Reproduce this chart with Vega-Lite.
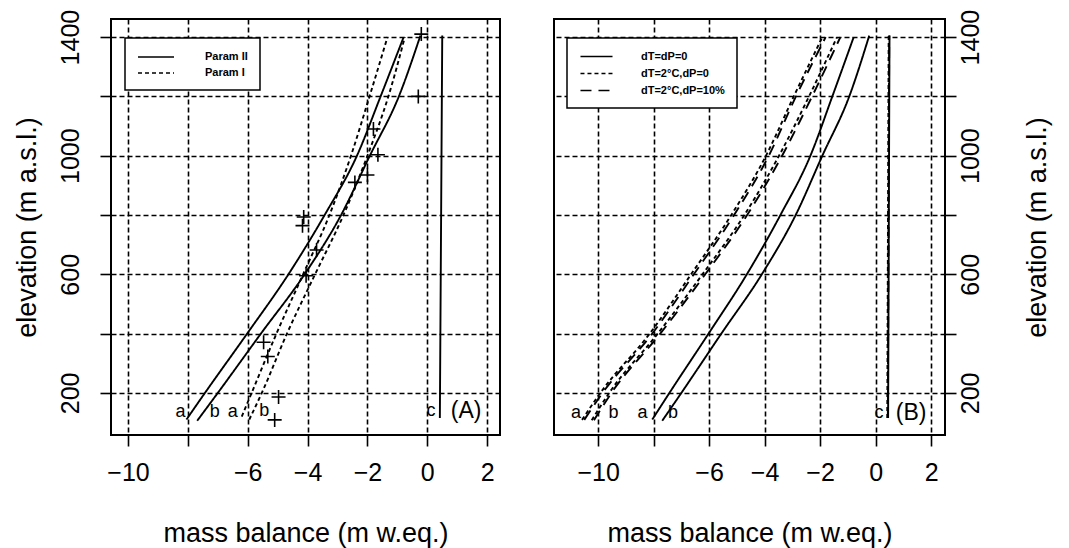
{
  "$schema": "https://vega.github.io/schema/vega-lite/v6.json",
  "padding": {"left": 11, "top": 8, "right": 5, "bottom": 5},
  "spacing": 52,
  "datasets": {
    "curvesA": [
      {"series": "Param II", "branch": "a", "elev": 110, "mb": -8.05},
      {"series": "Param II", "branch": "a", "elev": 200, "mb": -7.43},
      {"series": "Param II", "branch": "a", "elev": 400, "mb": -6.02},
      {"series": "Param II", "branch": "a", "elev": 600, "mb": -4.64},
      {"series": "Param II", "branch": "a", "elev": 800, "mb": -3.43},
      {"series": "Param II", "branch": "a", "elev": 1000, "mb": -2.35},
      {"series": "Param II", "branch": "a", "elev": 1200, "mb": -1.56},
      {"series": "Param II", "branch": "a", "elev": 1400, "mb": -0.79},
      {"series": "Param II", "branch": "b", "elev": 106, "mb": -7.69},
      {"series": "Param II", "branch": "b", "elev": 200, "mb": -7.0},
      {"series": "Param II", "branch": "b", "elev": 400, "mb": -5.56},
      {"series": "Param II", "branch": "b", "elev": 600, "mb": -4.1},
      {"series": "Param II", "branch": "b", "elev": 800, "mb": -2.88},
      {"series": "Param II", "branch": "b", "elev": 1000, "mb": -1.92},
      {"series": "Param II", "branch": "b", "elev": 1200, "mb": -0.95},
      {"series": "Param II", "branch": "b", "elev": 1405, "mb": -0.23},
      {"series": "Param II", "branch": "c", "elev": 115, "mb": 0.42},
      {"series": "Param II", "branch": "c", "elev": 1405, "mb": 0.5},
      {"series": "Param I", "branch": "a", "elev": 120, "mb": -6.2},
      {"series": "Param I", "branch": "a", "elev": 200, "mb": -5.87},
      {"series": "Param I", "branch": "a", "elev": 400, "mb": -5.04},
      {"series": "Param I", "branch": "a", "elev": 600, "mb": -4.15},
      {"series": "Param I", "branch": "a", "elev": 800, "mb": -3.27},
      {"series": "Param I", "branch": "a", "elev": 1000, "mb": -2.55},
      {"series": "Param I", "branch": "a", "elev": 1200, "mb": -1.93},
      {"series": "Param I", "branch": "a", "elev": 1400, "mb": -1.33},
      {"series": "Param I", "branch": "b", "elev": 110, "mb": -5.95},
      {"series": "Param I", "branch": "b", "elev": 200, "mb": -5.53},
      {"series": "Param I", "branch": "b", "elev": 400, "mb": -4.69},
      {"series": "Param I", "branch": "b", "elev": 600, "mb": -3.75},
      {"series": "Param I", "branch": "b", "elev": 800, "mb": -2.8},
      {"series": "Param I", "branch": "b", "elev": 1000, "mb": -2.0},
      {"series": "Param I", "branch": "b", "elev": 1200, "mb": -1.3},
      {"series": "Param I", "branch": "b", "elev": 1400, "mb": -0.75}
    ],
    "pointsA": [
      {"elev": 1410, "mb": -0.2},
      {"elev": 1200, "mb": -0.3},
      {"elev": 1090, "mb": -1.8},
      {"elev": 1003, "mb": -1.65},
      {"elev": 935, "mb": -2.0},
      {"elev": 910, "mb": -2.42},
      {"elev": 793, "mb": -4.13},
      {"elev": 764, "mb": -4.17},
      {"elev": 682, "mb": -3.7},
      {"elev": 595, "mb": -4.05},
      {"elev": 371, "mb": -5.47},
      {"elev": 323, "mb": -5.33},
      {"elev": 186, "mb": -4.97},
      {"elev": 109, "mb": -5.1}
    ],
    "labelsA": [
      {"label": "a", "elev": 137, "mb": -8.25},
      {"label": "b", "elev": 137, "mb": -7.1},
      {"label": "a", "elev": 137, "mb": -6.5},
      {"label": "b", "elev": 140, "mb": -5.45},
      {"label": "c", "elev": 140, "mb": 0.12},
      {"label": "(A)", "elev": 140, "mb": 1.3}
    ],
    "curvesB": [
      {"series": "dT=dP=0", "branch": "a", "elev": 110, "mb": -8.05},
      {"series": "dT=dP=0", "branch": "a", "elev": 200, "mb": -7.43},
      {"series": "dT=dP=0", "branch": "a", "elev": 400, "mb": -6.02},
      {"series": "dT=dP=0", "branch": "a", "elev": 600, "mb": -4.64},
      {"series": "dT=dP=0", "branch": "a", "elev": 800, "mb": -3.43},
      {"series": "dT=dP=0", "branch": "a", "elev": 1000, "mb": -2.35},
      {"series": "dT=dP=0", "branch": "a", "elev": 1200, "mb": -1.56},
      {"series": "dT=dP=0", "branch": "a", "elev": 1400, "mb": -0.79},
      {"series": "dT=dP=0", "branch": "b", "elev": 106, "mb": -7.69},
      {"series": "dT=dP=0", "branch": "b", "elev": 200, "mb": -7.0},
      {"series": "dT=dP=0", "branch": "b", "elev": 400, "mb": -5.56},
      {"series": "dT=dP=0", "branch": "b", "elev": 600, "mb": -4.1},
      {"series": "dT=dP=0", "branch": "b", "elev": 800, "mb": -2.88},
      {"series": "dT=dP=0", "branch": "b", "elev": 1000, "mb": -1.92},
      {"series": "dT=dP=0", "branch": "b", "elev": 1200, "mb": -0.95},
      {"series": "dT=dP=0", "branch": "b", "elev": 1405, "mb": -0.23},
      {"series": "dT=dP=0", "branch": "c", "elev": 115, "mb": 0.45},
      {"series": "dT=dP=0", "branch": "c", "elev": 1405, "mb": 0.5},
      {"series": "dT=2°C,dP=0", "branch": "a", "elev": 109, "mb": -10.58},
      {"series": "dT=2°C,dP=0", "branch": "a", "elev": 200, "mb": -9.92},
      {"series": "dT=2°C,dP=0", "branch": "a", "elev": 400, "mb": -8.14},
      {"series": "dT=2°C,dP=0", "branch": "a", "elev": 600, "mb": -6.65},
      {"series": "dT=2°C,dP=0", "branch": "a", "elev": 800, "mb": -5.2},
      {"series": "dT=2°C,dP=0", "branch": "a", "elev": 1000, "mb": -3.95},
      {"series": "dT=2°C,dP=0", "branch": "a", "elev": 1200, "mb": -2.95},
      {"series": "dT=2°C,dP=0", "branch": "a", "elev": 1400, "mb": -1.92},
      {"series": "dT=2°C,dP=0", "branch": "b", "elev": 108, "mb": -10.23},
      {"series": "dT=2°C,dP=0", "branch": "b", "elev": 200, "mb": -9.6},
      {"series": "dT=2°C,dP=0", "branch": "b", "elev": 400, "mb": -7.85},
      {"series": "dT=2°C,dP=0", "branch": "b", "elev": 600, "mb": -6.24},
      {"series": "dT=2°C,dP=0", "branch": "b", "elev": 800, "mb": -4.73},
      {"series": "dT=2°C,dP=0", "branch": "b", "elev": 1000, "mb": -3.48},
      {"series": "dT=2°C,dP=0", "branch": "b", "elev": 1200, "mb": -2.4},
      {"series": "dT=2°C,dP=0", "branch": "b", "elev": 1400, "mb": -1.39},
      {"series": "dT=2°C,dP=0", "branch": "c", "elev": 115, "mb": 0.42},
      {"series": "dT=2°C,dP=0", "branch": "c", "elev": 1405, "mb": 0.47},
      {"series": "dT=2°C,dP=10%", "branch": "a", "elev": 109, "mb": -10.5},
      {"series": "dT=2°C,dP=10%", "branch": "a", "elev": 200, "mb": -9.84},
      {"series": "dT=2°C,dP=10%", "branch": "a", "elev": 400, "mb": -8.05},
      {"series": "dT=2°C,dP=10%", "branch": "a", "elev": 600, "mb": -6.55},
      {"series": "dT=2°C,dP=10%", "branch": "a", "elev": 800, "mb": -5.1},
      {"series": "dT=2°C,dP=10%", "branch": "a", "elev": 1000, "mb": -3.85},
      {"series": "dT=2°C,dP=10%", "branch": "a", "elev": 1200, "mb": -2.87},
      {"series": "dT=2°C,dP=10%", "branch": "a", "elev": 1400, "mb": -1.8},
      {"series": "dT=2°C,dP=10%", "branch": "b", "elev": 108, "mb": -10.15},
      {"series": "dT=2°C,dP=10%", "branch": "b", "elev": 200, "mb": -9.52},
      {"series": "dT=2°C,dP=10%", "branch": "b", "elev": 400, "mb": -7.76},
      {"series": "dT=2°C,dP=10%", "branch": "b", "elev": 600, "mb": -6.14},
      {"series": "dT=2°C,dP=10%", "branch": "b", "elev": 800, "mb": -4.63},
      {"series": "dT=2°C,dP=10%", "branch": "b", "elev": 1000, "mb": -3.37},
      {"series": "dT=2°C,dP=10%", "branch": "b", "elev": 1200, "mb": -2.29},
      {"series": "dT=2°C,dP=10%", "branch": "b", "elev": 1400, "mb": -1.27},
      {"series": "dT=2°C,dP=10%", "branch": "c", "elev": 115, "mb": 0.44},
      {"series": "dT=2°C,dP=10%", "branch": "c", "elev": 1405, "mb": 0.49}
    ],
    "labelsB": [
      {"label": "a", "elev": 131, "mb": -10.8},
      {"label": "b", "elev": 131, "mb": -9.45},
      {"label": "a", "elev": 131, "mb": -8.4},
      {"label": "b", "elev": 131, "mb": -7.3},
      {"label": "c", "elev": 131, "mb": 0.12},
      {"label": "(B)", "elev": 131, "mb": 1.28}
    ]
  },
  "hconcat": [
    {
      "width": 389,
      "height": 416,
      "encoding": {
        "x": {
          "field": "mb", "type": "quantitative", "title": "mass balance (m w.eq.)",
          "scale": {"domain": [-10.57, 2.43], "nice": false, "zero": false},
          "axis": {"values": [-10, -8, -6, -4, -2, 0, 2], "labelExpr": "datum.value == -8 ? '' : datum.label"}
        },
        "y": {
          "field": "elev", "type": "quantitative", "title": "elevation (m a.s.l.)",
          "scale": {"domain": [58, 1461], "nice": false, "zero": false},
          "axis": {
            "orient": "left", "values": [200, 400, 600, 800, 1000, 1200, 1400], "format": "d",
            "labelExpr": "datum.value % 400 == 200 ? datum.label : ''",
            "labelAngle": 270, "labelAlign": "center", "labelBaseline": "alphabetic", "labelPadding": 22,
            "titleAngle": 270, "titleBaseline": "alphabetic", "titlePadding": 23
          }
        }
      },
      "layer": [
        {
          "data": {"name": "curvesA"},
          "mark": {"type": "line", "color": "black", "strokeWidth": 1.9, "interpolate": "monotone"},
          "encoding": {
            "strokeDash": {
              "field": "series", "type": "nominal",
              "scale": {"domain": ["Param II", "Param I"], "range": [[1, 0], [4, 3]]},
              "legend": {
                "title": null, "orient": "none", "legendX": 14, "legendY": 19,
                "symbolSize": 144, "symbolOffset": 12, "labelOffset": 42, "rowPadding": 4
              }
            },
            "detail": {"field": "branch", "type": "nominal"},
            "order": {"field": "elev", "type": "quantitative"}
          }
        },
        {
          "data": {"name": "pointsA"},
          "mark": {"type": "point", "shape": "M-1,0L1,0M0,-1L0,1", "filled": false, "color": "black", "strokeWidth": 1.6, "size": 196, "opacity": 1}
        },
        {
          "data": {"name": "labelsA"},
          "mark": {"type": "text", "font": "Liberation Sans", "color": "black", "align": "center", "baseline": "middle"},
          "encoding": {
            "text": {"field": "label", "type": "nominal"},
            "size": {"condition": {"test": "datum.label == '(A)'", "value": 23}, "value": 18}
          }
        }
      ]
    },
    {
      "width": 391,
      "height": 416,
      "encoding": {
        "x": {
          "field": "mb", "type": "quantitative", "title": "mass balance (m w.eq.)",
          "scale": {"domain": [-11.59, 2.5], "nice": false, "zero": false},
          "axis": {"values": [-10, -8, -6, -4, -2, 0, 2], "labelExpr": "datum.value == -8 ? '' : datum.label"}
        },
        "y": {
          "field": "elev", "type": "quantitative", "title": "elevation (m a.s.l.)",
          "scale": {"domain": [58, 1461], "nice": false, "zero": false},
          "axis": {
            "orient": "right", "values": [200, 400, 600, 800, 1000, 1200, 1400], "format": "d",
            "labelExpr": "datum.value % 400 == 200 ? datum.label : ''",
            "labelAngle": 270, "labelAlign": "center", "labelBaseline": "top", "labelPadding": 2,
            "titleAngle": 270, "titleBaseline": "top", "titlePadding": 41
          }
        }
      },
      "layer": [
        {
          "data": {"name": "curvesB"},
          "mark": {"type": "line", "color": "black", "strokeWidth": 1.9, "interpolate": "monotone"},
          "encoding": {
            "strokeDash": {
              "field": "series", "type": "nominal",
              "scale": {"domain": ["dT=dP=0", "dT=2°C,dP=0", "dT=2°C,dP=10%"], "range": [[1, 0], [4, 3], [11, 7]]},
              "legend": {
                "title": null, "orient": "none", "legendX": 13, "legendY": 19,
                "symbolSize": 114, "symbolOffset": 11, "labelOffset": 38, "rowPadding": 5
              }
            },
            "detail": {"field": "branch", "type": "nominal"},
            "order": {"field": "elev", "type": "quantitative"}
          }
        },
        {
          "data": {"name": "labelsB"},
          "mark": {"type": "text", "font": "Liberation Sans", "color": "black", "align": "center", "baseline": "middle"},
          "encoding": {
            "text": {"field": "label", "type": "nominal"},
            "size": {"condition": {"test": "datum.label == '(B)'", "value": 23}, "value": 18}
          }
        }
      ]
    }
  ],
  "resolve": {
    "scale": {"x": "independent", "y": "independent", "strokeDash": "independent"},
    "axis": {"x": "independent", "y": "independent"},
    "legend": {"strokeDash": "independent"}
  },
  "config": {
    "view": {"stroke": "black", "strokeWidth": 2},
    "axis": {
      "domain": false, "grid": true, "gridColor": "black", "gridDash": [5, 3], "gridWidth": 1.6, "gridOpacity": 1,
      "tickColor": "black", "tickWidth": 1.6, "labelColor": "black", "titleColor": "black",
      "labelFont": "Liberation Sans", "titleFont": "Liberation Sans", "labelFontSize": 25, "titleFontSize": 27,
      "titleFontWeight": "normal", "labelFlush": false, "labelOverlap": false
    },
    "axisX": {"tickSize": 11, "labelPadding": 14, "titlePadding": 35, "labelBaseline": "top"},
    "axisY": {"tickSize": 11},
    "legend": {
      "symbolType": "M-3,0L3,0", "symbolStrokeWidth": 1.5, "symbolStrokeColor": "black", "symbolFillColor": "transparent",
      "labelFont": "Liberation Sans", "labelFontSize": 11, "labelFontWeight": "bold", "labelColor": "black",
      "strokeColor": "black", "strokeWidth": 1.5, "fillColor": "white", "padding": 12
    }
  }
}
